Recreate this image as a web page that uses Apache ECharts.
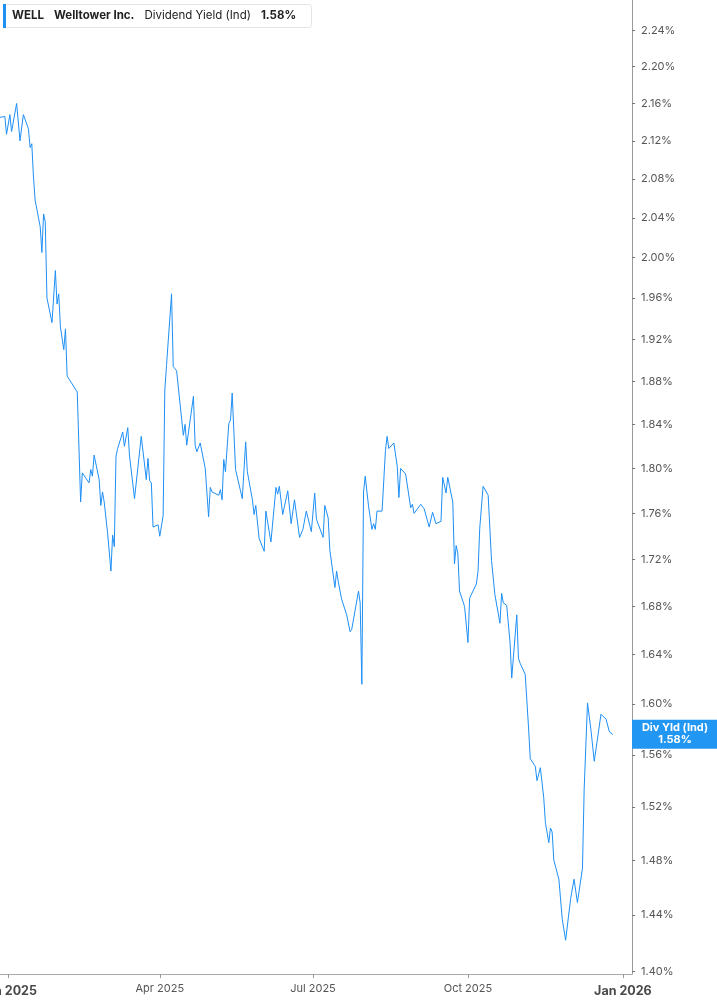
<!DOCTYPE html>
<html>
<head>
<meta charset="utf-8">
<script src="https://cdn.jsdelivr.net/npm/echarts@6/dist/echarts.min.js"></script>
<style>html,body{margin:0;padding:0;background:#fff}#c{width:717px;height:1005px}</style>
</head>
<body>
<div id="c"></div>
<script>
const dates = [
'2024-12-27','2024-12-30','2024-12-31','2025-01-02','2025-01-03','2025-01-06','2025-01-07','2025-01-08','2025-01-10','2025-01-13',
'2025-01-14','2025-01-15','2025-01-16','2025-01-17','2025-01-20','2025-01-21','2025-01-22','2025-01-23','2025-01-24','2025-01-27',
'2025-01-29','2025-01-30','2025-01-31','2025-02-01','2025-02-03','2025-02-04','2025-02-05','2025-02-11','2025-02-13','2025-02-14',
'2025-02-18','2025-02-19','2025-02-20','2025-02-21','2025-02-24','2025-02-25','2025-02-26','2025-02-27','2025-03-01','2025-03-03',
'2025-03-04','2025-03-05','2025-03-06','2025-03-07','2025-03-10','2025-03-11','2025-03-13','2025-03-14','2025-03-17','2025-03-21',
'2025-03-24','2025-03-25','2025-03-26','2025-03-27','2025-03-28','2025-03-31','2025-04-01','2025-04-03','2025-04-04','2025-04-05',
'2025-04-08','2025-04-09','2025-04-11','2025-04-15','2025-04-16','2025-04-17','2025-04-21','2025-04-22','2025-04-23','2025-04-24',
'2025-04-25','2025-04-28','2025-04-30','2025-05-01','2025-05-02','2025-05-06','2025-05-07','2025-05-08','2025-05-09','2025-05-10',
'2025-05-12','2025-05-13','2025-05-14','2025-05-16','2025-05-20','2025-05-22','2025-05-23','2025-05-26','2025-05-27','2025-05-28',
'2025-05-30','2025-06-02','2025-06-03','2025-06-04','2025-06-06','2025-06-09','2025-06-10','2025-06-11','2025-06-13','2025-06-16',
'2025-06-18','2025-06-20','2025-06-23','2025-06-24','2025-06-25','2025-06-26','2025-06-27','2025-06-30','2025-07-02','2025-07-03',
'2025-07-07','2025-07-08','2025-07-10','2025-07-11','2025-07-14','2025-07-15','2025-07-16','2025-07-17','2025-07-18','2025-07-21',
'2025-07-23','2025-07-24','2025-07-25','2025-07-28','2025-07-29','2025-07-30','2025-07-31','2025-08-01','2025-08-03','2025-08-05',
'2025-08-06','2025-08-07','2025-08-08','2025-08-11','2025-08-13','2025-08-14','2025-08-15','2025-08-18','2025-08-20','2025-08-21',
'2025-08-22','2025-08-25','2025-08-28','2025-08-29','2025-08-30','2025-09-03','2025-09-05','2025-09-08','2025-09-10','2025-09-12',
'2025-09-15','2025-09-16','2025-09-18','2025-09-19','2025-09-22','2025-09-23','2025-09-24','2025-09-25','2025-09-26','2025-09-29',
'2025-10-01','2025-10-02','2025-10-06','2025-10-07','2025-10-08','2025-10-10','2025-10-13','2025-10-15','2025-10-16','2025-10-17',
'2025-10-20','2025-10-21','2025-10-22','2025-10-24','2025-10-26','2025-10-27','2025-10-30','2025-10-31','2025-11-01','2025-11-04',
'2025-11-06','2025-11-07','2025-11-10','2025-11-11','2025-11-13','2025-11-15','2025-11-16','2025-11-18','2025-11-19','2025-11-20',
'2025-11-21','2025-11-24','2025-11-26','2025-11-28','2025-12-01','2025-12-03','2025-12-05','2025-12-08','2025-12-09','2025-12-11',
'2025-12-13','2025-12-15','2025-12-16','2025-12-19','2025-12-22','2025-12-24','2025-12-26'
];
const yields = [
2.145,2.146,2.127,2.148,2.130,2.160,2.158,2.120,2.148,2.133,
2.113,2.117,2.082,2.058,2.031,2.005,2.044,2.036,1.960,1.936,
1.987,1.954,1.964,1.932,1.910,1.930,1.885,1.870,1.770,1.796,
1.787,1.799,1.793,1.812,1.790,1.767,1.779,1.770,1.743,1.710,
1.741,1.731,1.811,1.818,1.833,1.820,1.837,1.812,1.773,1.829,
1.790,1.809,1.789,1.787,1.748,1.750,1.740,1.758,1.872,1.895,
1.964,1.894,1.890,1.830,1.840,1.821,1.866,1.821,1.815,1.814,
1.823,1.800,1.757,1.783,1.779,1.776,1.781,1.772,1.808,1.797,
1.841,1.844,1.869,1.799,1.773,1.824,1.797,1.772,1.759,1.767,
1.738,1.727,1.762,1.763,1.735,1.783,1.777,1.784,1.759,1.780,
1.751,1.772,1.739,1.738,1.746,1.747,1.762,1.744,1.778,1.755,
1.739,1.767,1.756,1.728,1.696,1.710,1.701,1.700,1.686,1.673,
1.659,1.661,1.660,1.693,1.683,1.616,1.779,1.793,1.766,1.746,
1.751,1.746,1.762,1.762,1.816,1.829,1.818,1.823,1.802,1.774,
1.800,1.795,1.765,1.768,1.760,1.768,1.764,1.748,1.761,1.751,
1.753,1.792,1.778,1.792,1.770,1.716,1.732,1.725,1.693,1.680,
1.650,1.687,1.699,1.710,1.747,1.784,1.776,1.719,1.720,1.690,
1.666,1.691,1.683,1.681,1.650,1.621,1.673,1.637,1.633,1.624,
1.581,1.557,1.551,1.540,1.550,1.527,1.508,1.493,1.504,1.501,
1.480,1.466,1.437,1.422,1.452,1.466,1.449,1.474,1.533,1.601,
1.580,1.555,1.555,1.592,1.588,1.578,1.576
];
const yTicks = [1.40,1.44,1.48,1.52,1.56,1.60,1.64,1.68,1.72,1.76,1.80,1.84,1.88,1.92,1.96,2.00,2.04,2.08,2.12,2.16,2.20,2.24];
const xTickDates = ['2025-01-01','2025-04-01','2025-07-01','2025-10-01','2026-01-01'];
const xTickLabels = ['Jan 2025','Apr 2025','Jul 2025','Oct 2025','Jan 2026'];
const xTickBold = [true,false,false,false,true];
const ticker = 'WELL';
const company = 'Welltower Inc.';
const metric = 'Dividend Yield (Ind)';
const endTag = 'Div Yld (Ind)';

const BLUE = '#1e8ff5';
const parseT = s => echarts.time.parse(s).getTime();
const xTickTimes = xTickDates.map(parseT);
const lastVal = yields[yields.length - 1];
const lastTxt = lastVal.toFixed(2) + '%';

const chart = echarts.init(document.getElementById('c'), null, {renderer: 'canvas'});
chart.setOption({
  animation: false,
  backgroundColor: '#fff',
  textStyle: {fontFamily: 'Inter'},
  title: {
    left: 3, top: 4,
    padding: [0, 16, 0, 0],
    backgroundColor: '#fff',
    borderColor: '#e3e3e3',
    borderWidth: 1,
    borderRadius: 3,
    text: '{bar|}{b0|' + ticker + '}{b|' + company + '}{n|' + metric + '}{b|' + lastTxt + '}',
    textStyle: {
      rich: {
        bar: {width: 3, height: 24, backgroundColor: BLUE},
        b0: {fontFamily: 'Inter', fontWeight: 'bold', fontSize: 11.5, color: '#222', padding: [0, 0, 0, 6]},
        b: {fontFamily: 'Inter', fontWeight: 'bold', fontSize: 11.5, color: '#222', padding: [0, 0, 0, 10]},
        n: {fontFamily: 'Inter', fontWeight: 'normal', fontSize: 11.5, color: '#222', padding: [0, 0, 0, 10]}
      }
    }
  },
  grid: {left: 0, right: 85, top: 0, bottom: 31, containLabel: false, outerBoundsMode: 'none'},
  xAxis: {
    type: 'value',
    min: parseT('2024-12-27 03:00'),
    max: parseT('2026-01-06 10:00'),
    splitLine: {show: false},
    axisLine: {show: true, lineStyle: {color: '#aaa', width: 1}},
    axisTick: {show: true, length: 4, lineStyle: {color: '#999'}, customValues: xTickTimes},
    axisLabel: {
      customValues: xTickTimes,
      hideOverlap: false,
      margin: 9,
      color: '#555',
      fontSize: 11,
      fontFamily: 'Inter',
      formatter: function (v) {
        let best = 0, bd = Infinity;
        xTickTimes.forEach((t, i) => { const d = Math.abs(t - v); if (d < bd) { bd = d; best = i; } });
        return xTickBold[best] ? '{y|' + xTickLabels[best] + '}' : xTickLabels[best];
      },
      rich: {
        y: {fontFamily: 'Inter', fontWeight: 'bold', fontSize: 12.5, color: '#4a4a4a', padding: [2, 0, 0, 0]}
      }
    }
  },
  yAxis: {
    type: 'value',
    position: 'right',
    min: Math.log(1.3982),
    max: Math.log(2.2746),
    splitLine: {show: false},
    axisLine: {show: true, lineStyle: {color: '#999', width: 1}},
    axisTick: {show: true, length: 3, lineStyle: {color: '#777'}, customValues: yTicks.map(Math.log)},
    axisLabel: {
      customValues: yTicks.map(Math.log),
      margin: 9,
      color: '#555',
      fontSize: 11,
      fontFamily: 'Inter',
      formatter: v => Math.exp(v).toFixed(2) + '%'
    }
  },
  series: [{
    type: 'line',
    data: dates.map((d, i) => [parseT(d), Math.log(yields[i])]),
    showSymbol: false,
    symbol: 'none',
    lineStyle: {color: BLUE, width: 1},
    itemStyle: {color: BLUE},
    markLine: {
      silent: true,
      symbol: ['none', 'none'],
      lineStyle: {color: 'rgba(255,255,255,0)', width: 1, type: 'solid'},
      data: [{yAxis: Math.log(lastVal)}],
      label: {
        show: true,
        position: 'end',
        distance: 0,
        offset: [0, -10],
        backgroundColor: '#2196f3',
        padding: [2, 0, 3, 0],
        formatter: () => '{a|' + endTag + '}\n{a|' + lastTxt + '}',
        rich: {
          a: {width: 86, align: 'center', color: '#fff', fontFamily: 'Inter', fontWeight: 'bold', fontSize: 11, lineHeight: 12}
        }
      }
    }
  }]
});
</script>
</body>
</html>
